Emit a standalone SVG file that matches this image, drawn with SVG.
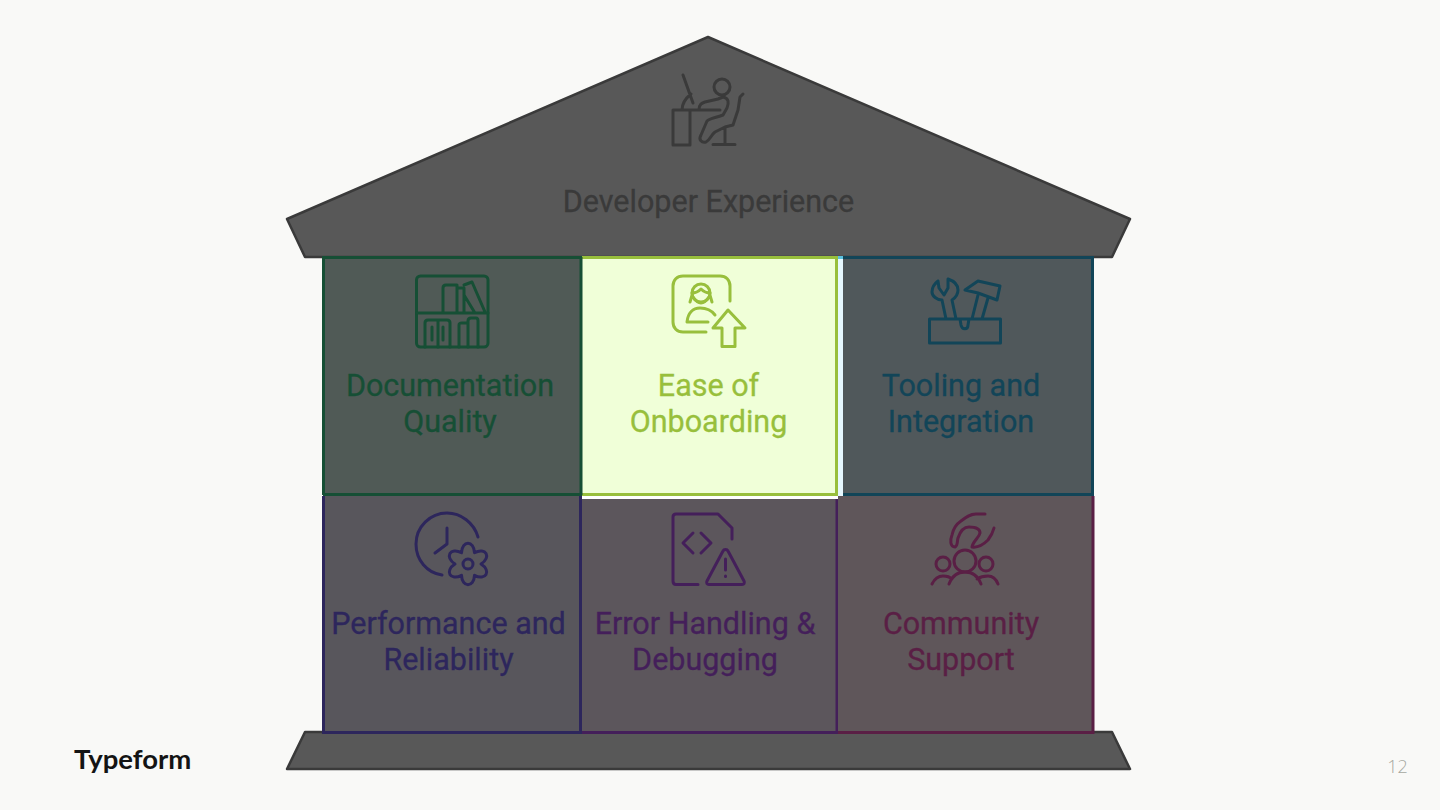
<svg xmlns="http://www.w3.org/2000/svg" width="1440" height="810" viewBox="0 0 1440 810">
<style>
text{font-family:Roboto,"Liberation Sans",sans-serif;font-size:30.500px;text-anchor:middle;stroke-width:.3}
.i{fill:none;stroke-width:3;stroke-linecap:round;stroke-linejoin:round}
.l{fill:none;stroke-width:3}
.house{fill:#585858;stroke:#3a3a3a;stroke-width:2.5;stroke-linejoin:round}
.g1{stroke:#164f35}.g2{stroke:#98bf3c}.g3{stroke:#124558}.g4{stroke:#2d265c}.g5{stroke:#441f5a}.g6{stroke:#5a1f45}.g0{stroke:#3a3a3a}
text.g1{fill:#164f35}text.g2{fill:#98bf3c}text.g3{fill:#124558}text.g4{fill:#2d265c}text.g5{fill:#441f5a}text.g6{fill:#5a1f45}text.g0{fill:#3a3a3a}
</style>
<rect width="1440" height="810" fill="#f9f9f7"/>
<g id="roof">
<path class="house" d="M708 37L1130 219L1112 257H305L287 219Z"/>
<g class="i g0">
<path d="M673 110h17v35h-17zM683 75L693 103M682 110C682 103 686 98 691 94M690 110H720M699 110C699 104 702 103 705 102L718 99L723 97C729 98 729 103 727 108L723 115C715 118 710 118 707 121L701 135C698 140 702 143 706 142C710 140 711 135 715 132L725 127L733 125L738 110L740 97L743 94M725 127V144.500M713 144.500H735"/>
<circle cx="722" cy="87" r="8"/>
</g>
<text class="g0" x="708.500" y="212">Developer Experience</text>
</g>
<g id="base"><path class="house" d="M305 732H1112L1130 769H287Z"/></g>
<g id="documentation-quality">
<rect x="323" y="257" width="258" height="238" fill="#505a56"/>
<g class="i g1"><rect x="416.500" y="276" width="71.500" height="71" rx="4"/><path d="M416.500 313H488M443 313V288C443 286 444 285 446 285H457V313M457 288H464V313M464 285L472 282L485 312M464 295L475 313M425 347V323C425 321 426 320 428 320H447C449 320 450 321 450 323V347M438 320V347M432 327V340M443 327V340M459 347V325C459 323 460 323 462 323H468M468 347V321C468 319 469 318 471 318H476C477 318 478 319 478 321V347"/></g>
<text class="g1" x="450" y="395.500">Documentation</text><text class="g1" x="450" y="432">Quality</text>
</g>
<g id="ease-of-onboarding">
<rect x="582" y="257" width="261" height="242" fill="#fff"/>
<rect x="838" y="257" width="5" height="242" fill="#e6f8ff"/>
<rect x="838" y="256" width="5" height="3" fill="#5cc0dd"/>
<rect x="582" y="257" width="256" height="238" fill="#f0ffd8"/>
<path class="l g2" d="M582 257.500H836.500V494.500H582"/>
<g class="i g2"><path d="M706 332H683C677 332 673 328 673 322V286C673 280 677 276 683 276H720C726 276 730 280 730 286V301M687 322C688 313 693 308 700 308C707 308 712 311 715 315M687 322H708"/><circle cx="701" cy="293" r="9"/><path d="M692 293C696 293 699 291 701 289C703 291 706 293 710 293M693 292L690 302M709 292L712 302M693 297C695 300 698 303 701 303C704 303 707 300 709 297M728 310L745 328H735V346.500H722V328H713Z"/></g>
<text class="g2" x="708.500" y="395.500">Ease of</text><text class="g2" x="708.500" y="432">Onboarding</text>
</g>
<g id="tooling-and-integration">
<rect x="843" y="257" width="250" height="238" fill="#50585b"/>
<path class="l g3" d="M843 257.500H1092.500V494.500H843"/>
<g class="i g3"><path d="M929.500 319H1000.500V343H929.500ZM938 281C934 284 932 288 932 292C932 296 937 300 942 300L946 319M948 279C954 281 958 285 958 290C958 295 955 298 952 300L956 319M938 281L939 288L944 295L948 288L948 279M960 319L961 325C962 330 968 330 968 325L969 319M972 319L978 295M982 319L988 298M965 290L978 281L1000 286L997 300L978 293Z"/></g>
<text class="g3" x="961" y="395.500">Tooling and</text><text class="g3" x="961" y="432">Integration</text>
</g>
<g id="performance-and-reliability">
<rect x="323" y="495" width="258" height="238" fill="#58565c"/>
<path class="l g4" d="M323.500 496V732.500H580.500V495"/>
<path class="l g1" d="M323 494.500H582"/>
<path class="l g1" d="M323.500 257V495M581 257V495M322 257.500H582"/>
<g class="i g4"><path d="M478 537C474 523 461 513 447 513C430 513 416 527 416 544C416 560 427 573 442 575M447 528V544L435 553"/><path d="M461.500 552.700C462 540 474 540 474.500 552.700C485.800 546.800 491.800 557.200 481 564C491.800 570.800 485.800 581.200 474.500 575.300C474 588 462 588 461.500 575.300C450.200 581.200 444.200 570.800 455 564C444.200 557.200 450.200 546.800 461.500 552.700Z"/><circle cx="468" cy="564" r="5"/></g>
<text class="g4" x="448.500" y="633.500">Performance and</text><text class="g4" x="448.500" y="670">Reliability</text>
</g>
<g id="error-handling-debugging">
<rect x="582" y="499" width="255" height="233" fill="#5c565c"/>
<path class="l g5" d="M582 732.500H837V499"/>
<g class="i g5"><path d="M698 584.500H676C674 584.500 673 583 673 581V517C673 515 674 514 676 514H718L732 528V539M693 533L683 543L693 553M701 533L711 543L701 553M723 551L707 581C706 583 707 584.500 709 584.500H742C744 584.500 745 583 744 581L728 551C727 549 724 549 723 551ZM725.500 559V570M725.500 576V576.500"/></g>
<text class="g5" x="705" y="633.500">Error Handling &amp;</text><text class="g5" x="705" y="670">Debugging</text>
</g>
<g id="community-support">
<rect x="838" y="496" width="255.500" height="237" fill="#5f565a"/>
<path class="l g6" d="M838 732.500H1093V496"/>
<g class="i g6"><path d="M985 514H976C970 514 966 517 961 521C955 525 953 530 952 535C950 540 950 547 955 547C958 546 957 541 958 538C960 532 964 527 969 527C975 527 980 528 980 533C979 538 973 541 972 547C979 548 985 543 988 540C991 536 993 532 994 528"/><circle cx="965" cy="561" r="11"/><circle cx="943" cy="564" r="7"/><circle cx="986" cy="564" r="7"/><path d="M949 584C952 576 958 572 965 572C972 572 978 576 981 584M932 584C935 578 939 576 943 576C947 576 950 577 952 579M977 579C980 577 984 576 988 576C992 576 996 579 998 584"/></g>
<text class="g6" x="961" y="633.500">Community</text><text class="g6" x="961" y="670">Support</text>
</g>
<text x="74" y="769" style="font-family:Lato,sans-serif;font-size:27.500px;font-weight:700;text-anchor:start" fill="#141414">Typeform</text>
<text x="1397.500" y="773" style="font-family:'Open Sans',sans-serif;font-size:18px;font-weight:300" fill="#a6a8a0">12</text>
</svg>
